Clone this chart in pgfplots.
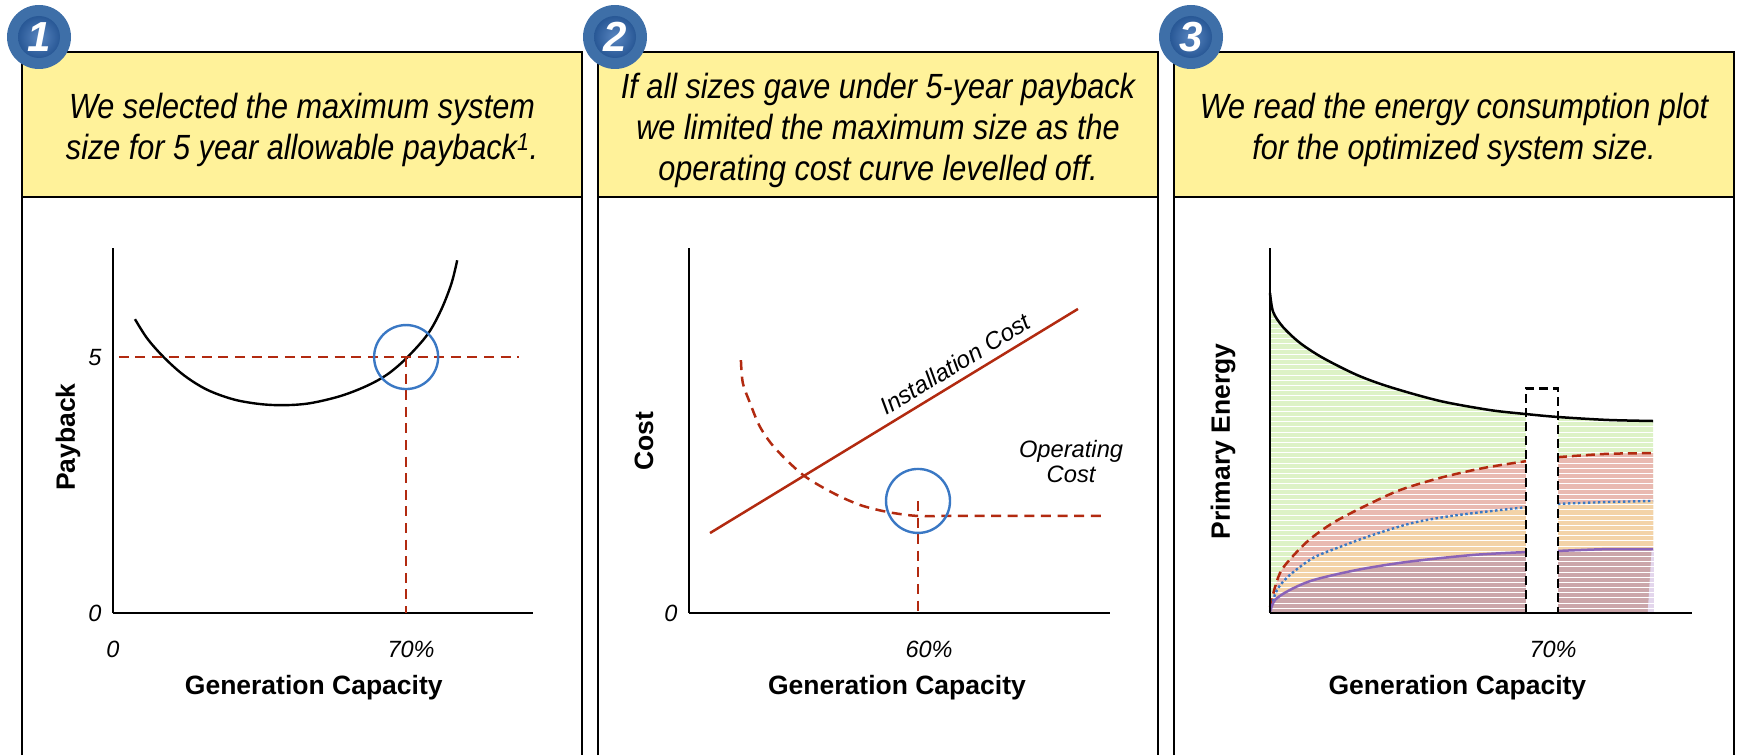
\documentclass[border=0pt]{standalone}
\usepackage{pgfplots}
\pgfplotsset{compat=1.18}
\usepackage{pgfplotstable}
\usepackage{fontspec}
\setmainfont{Liberation Sans}
\newfontfamily\hdrfont[FakeStretch=0.875]{Liberation Sans}
\definecolor{hdr}{HTML}{FFF29A}
\definecolor{cred}{HTML}{B22A10}
\definecolor{cblue}{HTML}{3A78C4}
\definecolor{cpurple}{HTML}{8A63B8}
\definecolor{fgreen}{HTML}{DDF2C6}
\definecolor{fred}{HTML}{E9BAB1}
\definecolor{forange}{HTML}{F3D3A8}
\definecolor{fmauve}{HTML}{CBA6AA}
\definecolor{flilac}{HTML}{E3D6EC}
\definecolor{bouter}{HTML}{3E6FA8}
\definecolor{binner}{HTML}{2F67B0}

\pgfplotstableread{
x y
0 87.7
0.8 82.5
3.3 78.4
7.7 74.0
13.6 69.9
22.4 65.2
30.9 61.9
43.7 58.1
56.6 55.6
65.9 54.5
74.1 53.7
86.7 52.9
98.6 52.6
}\tblack
\pgfplotstableread{
x y
0 1.6
1.3 7.1
3.3 12.3
9.5 19.5
16.2 24.7
25 29.6
33.5 33.7
43.7 37
54.8 39.7
65.9 41.6
74.1 42.7
86.7 43.6
98.6 43.8
}\tdashed
\pgfplotstableread{
x y
0 0.5
1.8 6.3
5.1 10.4
11.1 15.1
18 18.1
26.5 21.4
36.8 24.7
48.1 26.8
65.9 29
74.1 29.9
86.7 30.4
98.6 30.7
}\tdotted
\pgfplotstableread{
x y
0 0.3
1.3 3.6
5.1 6.3
11.1 9
22.4 11.8
35.3 14
52.2 15.9
65.9 16.7
74.1 17
86.7 17.5
98.6 17.5
}\tpurple

\pgfplotsset{
  panel/.style={
    scale only axis, anchor=south west, clip=false,
    axis x line=bottom, axis y line=left,
    axis line style={-, line width=2.3pt, black},
    major tick length=0pt,
    tick label style={font=\fontsize{23.5}{26}\selectfont\itshape},
    xticklabel style={yshift=-25pt},
    yticklabel style={xshift=-8pt},
    xlabel style={font=\fontsize{26.5}{30}\selectfont\bfseries, anchor=center, yshift=-75pt},
    ylabel style={font=\fontsize{26.5}{30}\selectfont\bfseries, anchor=center},
    height=365pt,
  },
  redsolid/.style={cred, line width=2.5pt},
  reddash/.style={cred, line width=2.5pt, dash pattern=on 10pt off 6.6pt},
  ring/.style={only marks, mark=o, mark size=32pt,
    mark options={cblue, line width=2.4pt, fill=none}},
}
\newcommand{\panelbox}[2]{%
  \fill[hdr] (#1pt,558pt) rectangle (#1pt+560pt,703pt);
  \draw[line width=2.3pt] (#1pt,0pt) -- (#1pt,703pt) -- (#1pt+560pt,703pt) -- (#1pt+560pt,0pt);
  \draw[line width=2.3pt] (#1pt,558pt) -- (#1pt+560pt,558pt);
  \node[align=center, font=\fontsize{35}{41}\hdrfont\itshape, inner sep=0pt]
    at (#1pt+280pt,625pt) {#2};
}
\newcommand{\badge}[2]{%
  \fill[bouter] (#1pt,718pt) circle (32pt);
  \shade[inner color=binner!80!white, outer color=binner!85!black] (#1pt,718pt) circle (21pt);
  \node[white, font=\fontsize{42}{42}\selectfont\bfseries\itshape] at (#1pt,718pt) {#2};
}

\begin{document}
\begin{tikzpicture}[x=1pt,y=1pt]
\panelbox{22}{We selected the maximum system\\size for 5 year allowable payback\textsuperscript{1}.}
\panelbox{598}{If all sizes gave under 5-year payback\\we limited the maximum size as the\\operating cost curve levelled off.}
\panelbox{1174}{We read the energy consumption plot\\for the optimized system size.}
\badge{39}{1}
\badge{615}{2}
\badge{1191}{3}

% panel 1
\begin{axis}[panel, at={(113pt,142pt)}, width=420pt,
    xmin=0, xmax=100.3, ymin=0, ymax=7.13,
    xtick={0,70}, xticklabels={0,\hspace*{10pt}70\%},
    ytick={0,5}, yticklabels={0,5},
    xlabel={Generation Capacity}, ylabel={Payback},
    xlabel style={at={(axis description cs:0.478,0)}},
    ylabel style={at={(axis description cs:0,0.482)}, yshift=45pt},
  ]
\addplot[black, line width=2.4pt, smooth, tension=0.55] coordinates {
  (5.25,5.74) (8.2,5.36) (12.2,4.99) (17,4.64) (22.5,4.36) (28.9,4.17)
  (35.3,4.08) (41.2,4.06) (47.2,4.10) (54.4,4.24) (60.7,4.44) (65.5,4.66)
  (70.1,4.98) (75.1,5.44) (78.3,5.91) (80.8,6.43) (82.2,6.89)};
\addplot[reddash] coordinates {(1.4,5) (97,5)};
\addplot[reddash] coordinates {(70,5) (70,0)};
\addplot[ring] coordinates {(70,5)};
\end{axis}

% panel 2
\begin{axis}[panel, at={(689pt,142pt)}, width=421pt,
    xmin=0, xmax=110.3, ymin=0, ymax=100,
    xtick={60}, xticklabels={\hspace*{22pt}60\%},
    ytick={0}, yticklabels={0},
    xlabel={Generation Capacity}, ylabel={Cost},
    xlabel style={at={(axis description cs:0.494,0)}},
    ylabel style={at={(axis description cs:0,0.47)}, yshift=45pt},
  ]
\addplot[redsolid] coordinates {(5.5,21.9) (101.9,83.3)};
\addplot[reddash, smooth] coordinates {
  (13.6,69.3) (14.1,63) (16,57.5) (18.6,51) (22.5,45.2) (29.9,37.8)
  (37.7,32.9) (44.8,29.6) (51.9,27.7) (59.7,26.6) (69.2,26.6) (109.5,26.6)};
\addplot[reddash] coordinates {(60,30.7) (60,0)};
\addplot[ring] coordinates {(60,30.7)};
\node[rotate=31.3, font=\fontsize{24}{26}\selectfont\itshape] at (axis cs:69.7,68.2) {Installation Cost};
\node[align=center, font=\fontsize{23.7}{25}\selectfont\itshape] at (axis cs:100.1,41.4) {Operating\\Cost};
\end{axis}

% panel 3
\begin{axis}[panel, at={(1270pt,142pt)}, width=422pt,
    xmin=0, xmax=108.6, ymin=0, ymax=100,
    xtick={70}, xticklabels={\hspace*{22pt}70\%},
    ytick=\empty,
    xlabel={Generation Capacity}, ylabel={Primary Energy},
    xlabel style={at={(axis description cs:0.444,0)}},
    ylabel style={at={(axis description cs:0,0.47)}, yshift=47pt},
    axis on top,
  ]
\addplot[fill=fgreen, draw=none, smooth, tension=0.5] table {\tblack} \closedcycle;
\addplot[fill=fred, draw=none, smooth, tension=0.5] table {\tdashed} \closedcycle;
\addplot[fill=forange, draw=none, smooth, tension=0.5] table {\tdotted} \closedcycle;
\addplot[fill=fmauve, draw=none, smooth, tension=0.5] table {\tpurple} \closedcycle;
\addplot[fill=flilac, draw=none] coordinates {(97.2,0) (98.2,17.3) (98.8,17.3) (98.8,0)} \closedcycle;
\pgfplotsinvokeforeach{0,...,62}{
  \draw[white, line width=0.9pt] (axis cs:0,{1.3+#1*1.42}) -- (axis cs:100,{1.3+#1*1.42});
}
% white gap at the selected size
\addplot[fill=white, draw=none] coordinates {(65.9,0) (65.9,61) (74.1,61) (74.1,0)} \closedcycle;
\addplot[black, line width=2.5pt, smooth] table {\tblack};
\addplot[cred, line width=2.5pt, dash pattern=on 9pt off 5pt, smooth, restrict x to domain=0:66] table {\tdashed};
\addplot[cred, line width=2.5pt, dash pattern=on 9pt off 5pt, smooth, restrict x to domain=74:99] table {\tdashed};
\addplot[cblue, line width=2.4pt, dash pattern=on 2.5pt off 2.5pt, smooth, restrict x to domain=0:66] table {\tdotted};
\addplot[cblue, line width=2.4pt, dash pattern=on 2.5pt off 2.5pt, smooth, restrict x to domain=74:99] table {\tdotted};
\addplot[cpurple, line width=2.5pt, smooth, restrict x to domain=0:66] table {\tpurple};
\addplot[cpurple, line width=2.5pt, smooth, restrict x to domain=74:99] table {\tpurple};
\addplot[black, line width=2.7pt, dash pattern=on 9pt off 5pt] coordinates {(65.9,0) (65.9,61.6) (74.1,61.6) (74.1,0) (65.9,0)};
\end{axis}

\pgfresetboundingbox
\path[use as bounding box] (0pt,0pt) rectangle (1737pt,755pt);
\end{tikzpicture}
\end{document}
